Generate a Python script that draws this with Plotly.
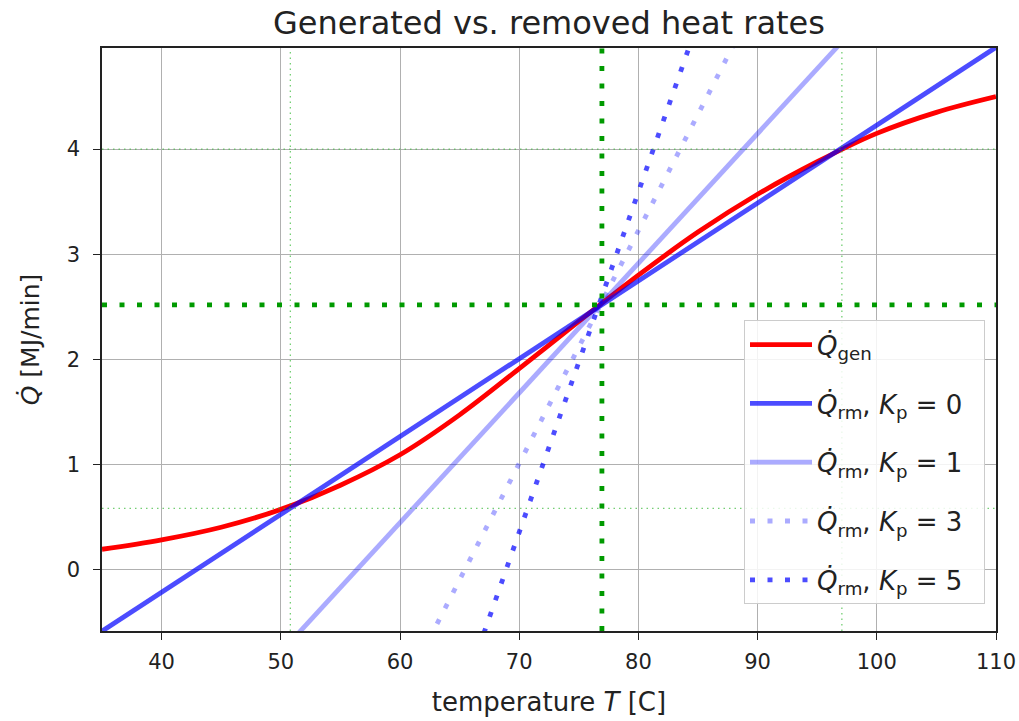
import plotly.graph_objects as go

# ---- data ----
T_gen = [35, 40, 45, 50, 55, 60, 65, 70, 75, 80, 85, 90, 95, 100, 105, 110]
Q_gen = [0.19, 0.28, 0.40, 0.57, 0.80, 1.09, 1.47, 1.91, 2.36, 2.80, 3.21, 3.57, 3.88, 4.15, 4.35, 4.50]

T_rm = [35, 110]
Q_rm_kp0 = [-0.59, 4.97]
Q_rm_kp1 = [-2.644, 6.618]
Q_rm_kp3 = [-6.749, 9.872]
Q_rm_kp5 = [-10.988, 13.312]

T_steady = [50.8, 76.94, 97.07]      # thin, thick, thin vertical markers
Q_steady = [0.579, 2.517, 4.0]       # thin, thick, thin horizontal markers

x_ticks = [40, 50, 60, 70, 80, 90, 100, 110]
y_ticks = [0, 1, 2, 3, 4]
x_range = [35, 110]
y_range = [-0.588, 4.963]

FONT = "DejaVu Sans"
BLUE = "rgba(0,0,255,0.70)"
LBLUE = "rgba(0,0,255,0.33)"
GREEN = "#009a00"
LGREEN = "rgba(40,180,40,0.65)"
DOTS = "5px,12.5px"
PAD = "\u00a0\u00a0"

fig = go.Figure()

fig.add_trace(go.Scatter(x=T_gen, y=Q_gen, mode="lines", line=dict(color="#ff0000", width=4.8, shape="spline", smoothing=1.0),
                         name="<i>Q̇</i><sub>gen</sub>" + PAD, legendgroup="a"))
fig.add_trace(go.Scatter(x=T_rm, y=Q_rm_kp0, mode="lines", line=dict(color=BLUE, width=4.8),
                         name="<i>Q̇</i><sub>rm</sub>, <i>K</i><sub>p</sub> = 0" + PAD, legendgroup="b"))
fig.add_trace(go.Scatter(x=T_rm, y=Q_rm_kp1, mode="lines", line=dict(color=LBLUE, width=4.8),
                         name="<i>Q̇</i><sub>rm</sub>, <i>K</i><sub>p</sub> = 1" + PAD, legendgroup="c"))
fig.add_trace(go.Scatter(x=T_rm, y=Q_rm_kp3, mode="lines", line=dict(color=LBLUE, width=4.8, dash=DOTS),
                         name="<i>Q̇</i><sub>rm</sub>, <i>K</i><sub>p</sub> = 3" + PAD, legendgroup="d"))
fig.add_trace(go.Scatter(x=T_rm, y=Q_rm_kp5, mode="lines", line=dict(color=BLUE, width=4.8, dash=DOTS),
                         name="<i>Q̇</i><sub>rm</sub>, <i>K</i><sub>p</sub> = 5" + PAD, legendgroup="e"))

# steady-state marker lines
for i, t in enumerate(T_steady):
    thick = (i == 1)
    fig.add_trace(go.Scatter(x=[t, t], y=[y_range[0], y_range[1]], mode="lines", showlegend=False, hoverinfo="skip",
                             line=dict(color=GREEN if thick else LGREEN, width=4.8 if thick else 1.3,
                                       dash=DOTS if thick else "1.5px,4px")))
for i, q in enumerate(Q_steady):
    thick = (i == 1)
    fig.add_trace(go.Scatter(x=[x_range[0], x_range[1]], y=[q, q], mode="lines", showlegend=False, hoverinfo="skip",
                             line=dict(color=GREEN if thick else LGREEN, width=4.8 if thick else 1.3,
                                       dash=DOTS if thick else "1.5px,4px")))

axis_common = dict(showline=True, linecolor="#222", linewidth=1.5, mirror=True, ticks="outside", ticklen=7,
                   tickcolor="#222", tickwidth=1.3, showgrid=True, gridcolor="#b0b0b0", gridwidth=1.3,
                   zeroline=False, automargin=False, ticklabeloverflow="allow",
                   tickfont=dict(family=FONT, size=21, color="#222"))

fig.update_layout(
    width=1019, height=721,
    margin=dict(l=102, r=23, t=48, b=90),
    paper_bgcolor="white", plot_bgcolor="white",
    title=dict(text="Generated vs. removed heat rates", xref="paper", x=0.5, xanchor="center", yref="container",
               y=1 - 23 / 721, yanchor="middle",
               font=dict(family=FONT, size=32, color="#222")),
    xaxis=dict(range=x_range, tickvals=x_ticks, ticklabelstandoff=4,
               title=dict(text="temperature <i>T</i> [C]", standoff=20,
                          font=dict(family=FONT, size=26, color="#222")), **axis_common),
    yaxis=dict(range=y_range, tickvals=y_ticks, ticklabelstandoff=9,
               title=dict(text="<i>Q̇</i> [MJ/min]", standoff=20,
                          font=dict(family=FONT, size=25, color="#222")), **axis_common),
    legend=dict(x=0.9877, y=0.046, xanchor="right", yanchor="bottom", bgcolor="rgba(255,255,255,0.85)",
                bordercolor="#cccccc", borderwidth=1, font=dict(family=FONT, size=26, color="#222"),
                tracegroupgap=22, itemwidth=62),
    showlegend=True,
)

fig.write_html("out.html")
